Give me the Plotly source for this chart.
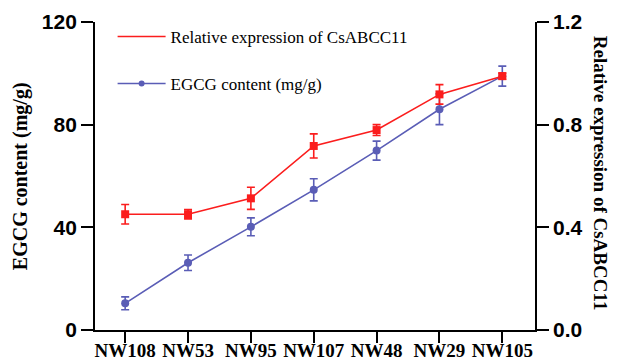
import plotly.graph_objects as go

categories = ["NW108", "NW53", "NW95", "NW107", "NW48", "NW29", "NW105"]
egcg = [10.4, 26.2, 40.2, 54.6, 69.9, 86.0, 98.9]
egcg_err = [2.5, 3.0, 3.5, 4.3, 3.7, 6.0, 3.9]
expr = [0.451, 0.451, 0.513, 0.717, 0.779, 0.918, 0.989]
expr_err = [0.038, 0.018, 0.043, 0.047, 0.021, 0.038, 0.012]

y_ticks = [0, 40, 80, 120]
y2_ticks = [0.0, 0.4, 0.8, 1.2]
y2_ticktext = ["0.0", "0.4", "0.8", "1.2"]

RED = "#fb1d1d"
BLUE = "#5a5db6"
SERIF = "Liberation Serif, Times New Roman, serif"
SANS = "Liberation Sans, Arial, sans-serif"

fig = go.Figure()

fig.add_trace(go.Scatter(
    x=categories, y=egcg, mode="lines+markers",
    line=dict(color=BLUE, width=1.6),
    marker=dict(symbol="circle", size=8, color=BLUE),
    error_y=dict(type="data", array=egcg_err, color=BLUE, thickness=1.6, width=4),
    showlegend=False, yaxis="y", cliponaxis=False,
))
fig.add_trace(go.Scatter(
    x=categories, y=expr, mode="lines+markers",
    line=dict(color=RED, width=1.6),
    marker=dict(symbol="square", size=8, color=RED),
    error_y=dict(type="data", array=expr_err, color=RED, thickness=1.6, width=4),
    showlegend=False, yaxis="y2", cliponaxis=False,
))

# legend-only entries
fig.add_trace(go.Scatter(
    x=[None], y=[None], mode="lines", name="Relative expression of CsABCC11",
    line=dict(color=RED, width=1.6), legendgroup="a", yaxis="y2",
))
fig.add_trace(go.Scatter(
    x=[None], y=[None], mode="lines+markers", name="EGCG content (mg/g)",
    line=dict(color=BLUE, width=1.6), marker=dict(symbol="circle", size=6, color=BLUE),
    legendgroup="b", yaxis="y",
))

def axis_common(ticklen):
    return dict(
        showline=True, linecolor="black", linewidth=1.8,
        ticks="outside", ticklen=ticklen, tickwidth=1.8, tickcolor="black",
        showgrid=False, zeroline=False, automargin=False,
    )

fig.update_layout(
    width=618, height=362,
    margin=dict(l=95, r=83, t=22, b=32),
    plot_bgcolor="white", paper_bgcolor="white",
    xaxis=dict(
        **axis_common(11), type="category", range=[-0.48, 6.52],
        tickfont=dict(family=SERIF, size=19, color="black", weight="bold"),
        ticklabelstandoff=-9,
    ),
    yaxis=dict(
        **axis_common(12), range=[0, 120], tickvals=y_ticks,
        tickfont=dict(family=SANS, size=21, color="black", weight="bold"),
    ),
    yaxis2=dict(
        **axis_common(12), range=[0, 1.2], tickvals=y2_ticks, ticktext=y2_ticktext,
        overlaying="y", side="right",
        tickfont=dict(family=SANS, size=21, color="black", weight="bold"),
    ),
    legend=dict(
        x=0.04, y=1.01, xanchor="left", yanchor="top",
        font=dict(family=SERIF, size=17, color="black"),
        traceorder="grouped", tracegroupgap=22, itemwidth=48,
        bgcolor="rgba(0,0,0,0)",
    ),
    annotations=[
        dict(text="EGCG content (mg/g)", xref="paper", yref="paper",
             x=-0.17, y=0.5, xanchor="center", yanchor="middle",
             textangle=-90, showarrow=False,
             font=dict(family=SERIF, size=20, color="black", weight="bold")),
        dict(text="Relative expression of CsABCC11", xref="paper", yref="paper",
             x=1.148, y=0.51, xanchor="center", yanchor="middle",
             textangle=90, showarrow=False,
             font=dict(family=SERIF, size=19, color="black", weight="bold")),
    ],
)

fig.write_html("out.html")
